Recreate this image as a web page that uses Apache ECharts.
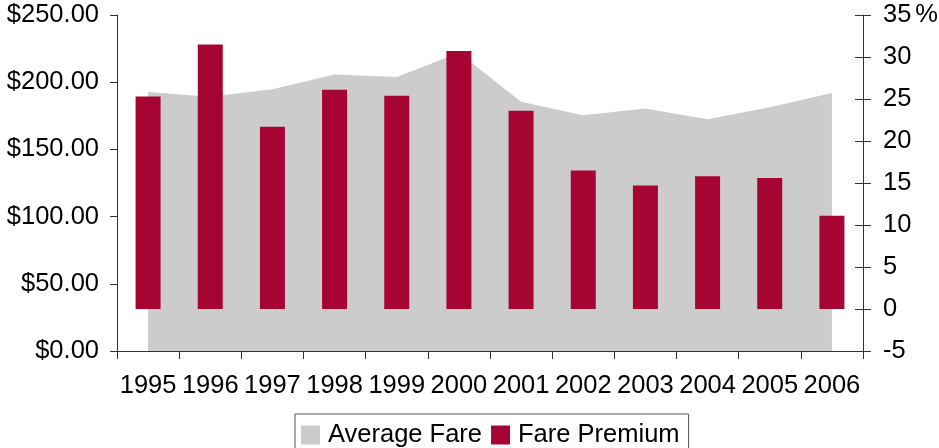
<!DOCTYPE html>
<html>
<head>
<meta charset="utf-8">
<script src="https://cdn.jsdelivr.net/npm/echarts@6/dist/echarts.min.js"></script>
<style>
html,body{margin:0;padding:0;background:#fff;}
#chart{width:939px;height:448px;}
</style>
</head>
<body>
<div id="chart"></div>
<script>
const years = ['1995','1996','1997','1998','1999','2000','2001','2002','2003','2004','2005','2006'];
const averageFare = [192.7, 189.1, 194.7, 205.8, 203.8, 222.0, 185.4, 175.5, 180.5, 172.5, 181.3, 191.9];
const farePremium = [25.3, 31.5, 21.7, 26.1, 25.4, 30.7, 23.6, 16.5, 14.7, 15.8, 15.6, 11.1];
const leftTicks = {min: 0, max: 250, interval: 50};
const rightTicks = {min: -5, max: 35, interval: 5};

const FONT = '"Liberation Sans", Arial, sans-serif';
const FS = 25.5;
const chart = echarts.init(document.getElementById('chart'), null, {renderer: 'canvas'});
chart.setOption({
  animation: false,
  backgroundColor: '#fff',
  textStyle: {fontFamily: FONT},
  grid: {left: 117, right: 76, top: 15, bottom: 97, containLabel: false, outerBoundsMode: 'none'},
  legend: {
    top: 414, left: 295,
    icon: 'rect', itemWidth: 19, itemHeight: 19, itemGap: 9,
    padding: [8, 9, 8, 6],
    borderColor: '#555', borderWidth: 1,
    textStyle: {fontFamily: FONT, fontSize: FS, color: '#000', padding: [0, 0, 0, 3]},
    data: ['Average Fare', 'Fare Premium']
  },
  xAxis: [{
    type: 'category', data: years, boundaryGap: true, position: 'bottom',
    axisLine: {lineStyle: {color: '#333', width: 1}},
    axisTick: {show: true, length: 8, lineStyle: {color: '#333'}},
    axisLabel: {fontFamily: FONT, fontSize: FS, color: '#000', margin: 22, interval: 0}
  }, {
    type: 'category', data: years, boundaryGap: true, position: 'bottom',
    axisLine: {show: false},
    axisTick: {show: true, inside: true, length: 8, lineStyle: {color: '#333'}},
    axisLabel: {show: false}
  }],
  yAxis: [{
    type: 'value', position: 'left',
    min: leftTicks.min, max: leftTicks.max, interval: leftTicks.interval,
    splitLine: {show: false},
    axisLine: {show: true, lineStyle: {color: '#333'}},
    axisTick: {show: true, length: 7, lineStyle: {color: '#333'}},
    axisLabel: {fontFamily: FONT, fontSize: FS, color: '#000', margin: 18,
      formatter: v => '$' + v.toFixed(2)}
  }, {
    type: 'value', position: 'right',
    min: rightTicks.min, max: rightTicks.max, interval: rightTicks.interval,
    splitLine: {show: false},
    axisLine: {show: true, lineStyle: {color: '#333'}},
    axisTick: {show: true, length: 8, lineStyle: {color: '#333'}},
    axisLabel: {fontFamily: FONT, fontSize: FS, color: '#000', margin: 20,
      formatter: v => v === 35 ? '35{s|}{p|%}' : String(v),
      rich: {
        s: {width: 4, fontSize: FS},
        p: {fontFamily: FONT, fontSize: FS, color: '#000'}
      }}
  }, {
    type: 'value', position: 'right',
    min: rightTicks.min, max: rightTicks.max, interval: rightTicks.interval,
    splitLine: {show: false},
    axisLine: {show: false},
    axisTick: {show: true, inside: true, length: 8, lineStyle: {color: '#333'}},
    axisLabel: {show: false}
  }],
  series: [{
    name: 'Average Fare', type: 'line', data: averageFare,
    xAxisIndex: 0, yAxisIndex: 0,
    color: '#cccccc',
    itemStyle: {color: '#cccccc'},
    lineStyle: {width: 0, color: '#cccccc'},
    areaStyle: {color: '#cccccc', opacity: 1},
    showSymbol: false, symbol: 'none', z: 1
  }, {
    name: 'Fare Premium', type: 'bar', data: farePremium,
    xAxisIndex: 0, yAxisIndex: 1,
    color: '#a60533',
    itemStyle: {color: '#a60533'},
    barWidth: 25, z: 2
  }]
});
</script>
</body>
</html>
